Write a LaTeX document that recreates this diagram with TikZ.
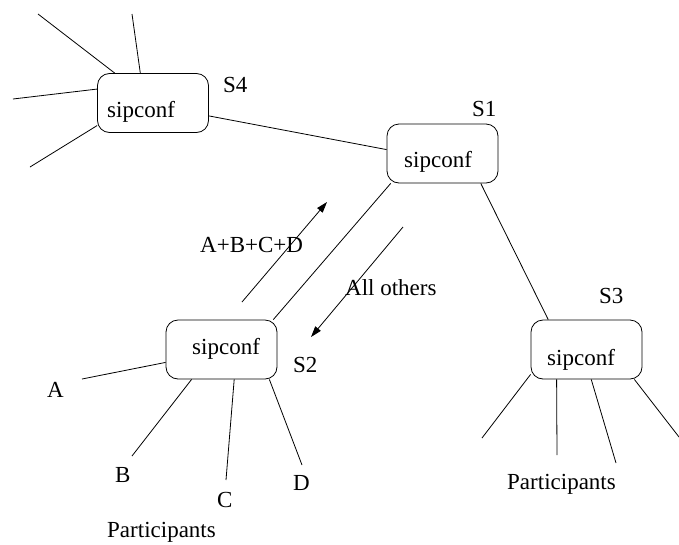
\documentclass[tikz,border=0pt]{standalone}
\usepackage{fontspec}
\setmainfont{Liberation Serif}
\usetikzlibrary{arrows.meta}
\begin{document}
\begin{tikzpicture}[x=1pt,y=-1pt,
  box/.style={draw,rounded corners=12pt,minimum width=111pt,minimum height=59pt,inner sep=0pt,line width=0.8pt},
  txt/.style={anchor=base west,inner sep=0pt,font=\fontsize{23}{27}\selectfont},
  wire/.style={line width=0.8pt},
  flow/.style={line width=0.8pt,-{Triangle[length=11pt,width=7pt]}}]
\useasboundingbox (0,0) rectangle (679,544);
% boxes
\node[box] (s4) at (153,103) {};
\node[box] (s1) at (442.5,153.5) {};
\node[box] (s2) at (221.5,349.5) {};
\node[box] (s3) at (586.5,349.5) {};
% box texts
\node[txt] (t4) at (107,117) {sipconf};
\node[txt] (t1) at (404,167) {sipconf};
\node[txt] (t2) at (192,354) {sipconf};
\node[txt] (t3) at (547,365) {sipconf};
% labels
\node[txt] (l4) at (223,92) {S4};
\node[txt] (l1) at (472,116) {S1};
\node[txt] (l2) at (293,372) {S2};
\node[txt] (l3) at (599,303) {S3};
\node[txt] (lup) at (200,252) {A+B+C+D};
\node[txt] (ldn) at (345,295) {All others};
\node[txt] (la) at (47,397) {A};
\node[txt] (lb) at (115,482) {B};
\node[txt] (lc) at (217,507) {C};
\node[txt] (ld) at (293,490) {D};
\node[txt] (p2) at (107,537) {Participants};
\node[txt] (p3) at (507,489) {Participants};
% free ends
\coordinate (e41) at (38,14);
\coordinate (e42) at (132,14);
\coordinate (e43) at (13,99);
\coordinate (e44) at (30,167);
\coordinate (ea) at (82,379);
\coordinate (eb) at (132,456);
\coordinate (ec) at (226,480);
\coordinate (ed) at (302,465);
\coordinate (e31) at (482,438);
\coordinate (e32) at (557,455);
\coordinate (e33) at (616,463);
\coordinate (e34) at (679,437);
\coordinate (u0) at (242,302);
\coordinate (u1) at (327,202);
\coordinate (d0) at (403,227);
\coordinate (d1) at (311,337);
% connectors
\draw[wire] (s4.142.4) -- (e41);
\draw[wire] (s4.113.4) -- (e42);
\draw[wire] (s4.166.9) -- (e43);
\draw[wire] (s4.-158.6) -- (e44);
\draw[wire] (s4.-13.1) -- (s1.176.4);
\draw[wire] (s1.-150) -- (s2.30.3);
\draw[wire] (s1.-38.2) -- (s3.142.5);
\draw[wire] (s2.193.7) -- (ea);
\draw[wire] (s2.-135) -- (eb);
\draw[wire] (s2.-67) -- (ec);
\draw[wire] (s2.-32.4) -- (ed);
\draw[wire] (s3.-156.2) -- (e31);
\draw[wire] (s3.-135) -- (e32);
\draw[wire] (s3.-81.3) -- (e33);
\draw[wire] (s3.-32.4) -- (e34);
\draw[flow] (u0) -- (u1);
\draw[flow] (d0) -- (d1);
\end{tikzpicture}
\end{document}
